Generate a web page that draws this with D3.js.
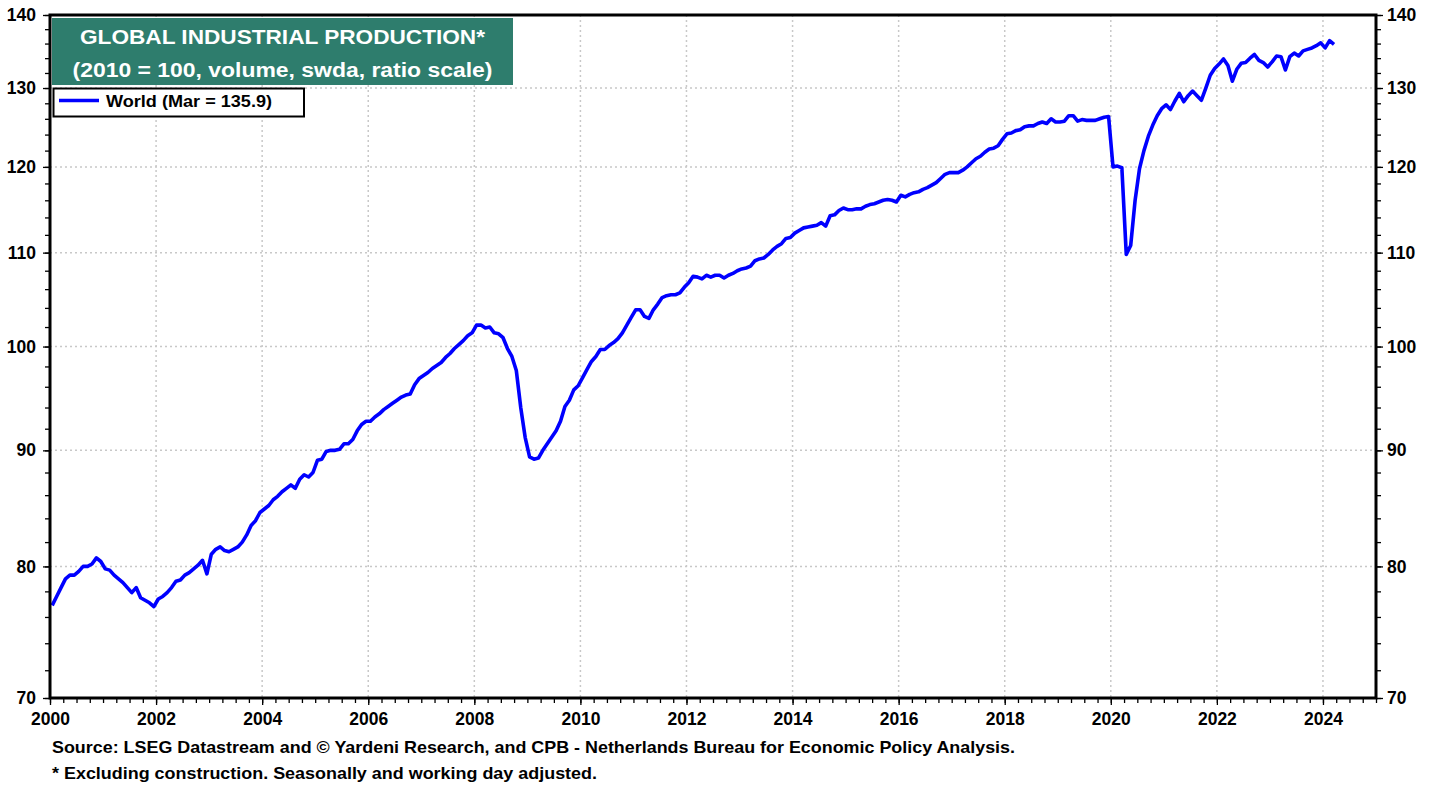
<!DOCTYPE html>
<html>
<head>
<meta charset="utf-8">
<script src="https://cdn.jsdelivr.net/npm/d3@7"></script>
<style>
  body { margin: 0; background: #fff; }
  svg { display: block; font-family: Arial, "Liberation Sans", sans-serif; font-weight: bold; }
</style>
</head>
<body>
<svg id="chart" width="1438" height="787"></svg>
<script>
// monthly index, 2010 = 100, Jan 2000 .. Mar 2024
const firstYear = 2000;
const worldIP = [
  76.9, 77.6, 78.3, 79.0, 79.3, 79.3, 79.6, 80.0, 80.0, 80.2, 80.7, 80.4, // 2000
  79.8, 79.7, 79.3, 79.0, 78.7, 78.3, 77.9, 78.3, 77.5, 77.3, 77.1, 76.8, // 2001
  77.4, 77.6, 77.9, 78.3, 78.8, 78.9, 79.3, 79.5, 79.8, 80.1, 80.5, 79.4, // 2002
  81.0, 81.4, 81.6, 81.3, 81.2, 81.4, 81.6, 82.0, 82.6, 83.4, 83.8, 84.5, // 2003
  84.8, 85.1, 85.6, 85.9, 86.3, 86.6, 86.9, 86.6, 87.4, 87.8, 87.6, 88.0, // 2004
  89.1, 89.2, 89.9, 90.0, 90.0, 90.1, 90.6, 90.6, 91.0, 91.8, 92.4, 92.7, // 2005
  92.7, 93.1, 93.4, 93.8, 94.1, 94.4, 94.7, 95.0, 95.2, 95.3, 96.2, 96.8, // 2006
  97.1, 97.4, 97.8, 98.1, 98.4, 98.9, 99.3, 99.8, 100.2, 100.6, 101.1, 101.4, // 2007
  102.2, 102.2, 101.9, 102.0, 101.4, 101.3, 100.9, 99.8, 99.0, 97.6, 94.0, 91.2, // 2008
  89.4, 89.2, 89.3, 90.0, 90.6, 91.2, 91.8, 92.7, 94.1, 94.7, 95.7, 96.1, // 2009
  96.9, 97.7, 98.5, 99.0, 99.7, 99.7, 100.1, 100.4, 100.8, 101.4, 102.2, 103.0, // 2010
  103.8, 103.8, 103.1, 102.9, 103.8, 104.4, 105.1, 105.3, 105.4, 105.4, 105.6, 106.2, // 2011
  106.7, 107.4, 107.3, 107.1, 107.5, 107.3, 107.5, 107.5, 107.2, 107.5, 107.7, 108.0, // 2012
  108.2, 108.3, 108.5, 109.1, 109.3, 109.4, 109.8, 110.3, 110.7, 111.0, 111.6, 111.7, // 2013
  112.2, 112.5, 112.8, 112.9, 113.0, 113.1, 113.4, 113.0, 114.2, 114.3, 114.8, 115.1, // 2014
  114.9, 114.9, 115.0, 115.0, 115.3, 115.5, 115.6, 115.8, 116.0, 116.1, 116.0, 115.8, // 2015
  116.6, 116.4, 116.7, 116.9, 117.0, 117.3, 117.5, 117.8, 118.1, 118.6, 119.1, 119.3, // 2016
  119.3, 119.3, 119.6, 120.0, 120.5, 121.0, 121.3, 121.8, 122.2, 122.3, 122.6, 123.4, // 2017
  124.1, 124.2, 124.5, 124.6, 125.0, 125.1, 125.1, 125.4, 125.6, 125.4, 126.0, 125.6, // 2018
  125.6, 125.7, 126.4, 126.4, 125.7, 125.9, 125.8, 125.8, 125.8, 126.0, 126.2, 126.3, // 2019
  120.0, 120.1, 119.9, 109.8, 110.8, 116.0, 119.8, 122.0, 123.8, 125.2, 126.4, 127.3, // 2020
  127.8, 127.2, 128.3, 129.3, 128.2, 129.0, 129.6, 129.0, 128.4, 130.0, 131.7, 132.6, // 2021
  133.2, 133.9, 133.0, 130.9, 132.5, 133.3, 133.4, 134.0, 134.5, 133.7, 133.4, 132.8, // 2022
  133.5, 134.3, 134.2, 132.4, 134.2, 134.7, 134.3, 135.0, 135.2, 135.4, 135.7, 136.1, // 2023
  135.4, 136.4, 135.9 // 2024
];

const yMajorTicks = [70, 80, 90, 100, 110, 120, 130, 140];
const yGridTicks = [80, 90, 100, 110, 120, 130];
const xLabelYears = d3.range(2000, 2025, 2);
const titleLines = ["GLOBAL INDUSTRIAL PRODUCTION*", "(2010 = 100, volume, swda, ratio scale)"];
const legendLabel = "World (Mar = 135.9)";
const footnotes = [
  "Source: LSEG Datastream and \u00A9 Yardeni Research, and CPB - Netherlands Bureau for Economic Policy Analysis.",
  "* Excluding construction. Seasonally and working day adjusted."
];

const svg = d3.select("#chart");
const plotLeft = 50, plotRight = 1376, plotTop = 15, plotBottom = 698;

const x = d3.scaleLinear().domain([2000, 2025]).range([plotLeft, plotRight]);
const y = d3.scaleLog().domain([70, 140]).range([plotBottom, plotTop]);

const points = worldIP.map((v, i) => ({ t: firstYear + (i + 0.5) / 12, v: v }));

// grid
const grid = svg.append("g")
  .attr("stroke", "#c8c8c8")
  .attr("stroke-width", 1.5)
  .attr("stroke-dasharray", "2,3");
grid.selectAll(".hg").data(yGridTicks).join("line")
  .attr("x1", plotLeft).attr("x2", plotRight)
  .attr("y1", d => y(d)).attr("y2", d => y(d));
grid.selectAll(".vg").data(xLabelYears.slice(1)).join("line")
  .attr("x1", d => x(d)).attr("x2", d => x(d))
  .attr("y1", plotTop).attr("y2", plotBottom);

// axes
function styleAxis(g) {
  g.select(".domain").remove();
  g.selectAll(".tick line").attr("stroke", "#000").attr("stroke-width", 1.3);
  g.selectAll(".tick text").attr("fill", "#000").attr("font-size", 17.5).attr("font-weight", "bold")
    .attr("font-family", "Arial, 'Liberation Sans', sans-serif");
}

const yMinor = d3.range(70, 141, 2);
svg.append("g").attr("transform", `translate(${plotLeft},0)`)
  .call(d3.axisLeft(y).tickValues(yMinor).tickSize(5).tickFormat(""))
  .call(styleAxis);
svg.append("g").attr("transform", `translate(${plotLeft},0)`)
  .call(d3.axisLeft(y).tickValues(yMajorTicks).tickSize(7).tickPadding(7).tickFormat(d3.format("d")))
  .call(styleAxis);
svg.append("g").attr("transform", `translate(${plotRight},0)`)
  .call(d3.axisRight(y).tickValues(yMinor).tickSize(5).tickFormat(""))
  .call(styleAxis);
svg.append("g").attr("transform", `translate(${plotRight},0)`)
  .call(d3.axisRight(y).tickValues(yMajorTicks).tickSize(7).tickPadding(4).tickFormat(d3.format("d")))
  .call(styleAxis);

const xMinor = d3.range(2000, 2025.01, 0.25);
svg.append("g").attr("transform", `translate(0,${plotBottom})`)
  .call(d3.axisBottom(x).tickValues(xMinor).tickSize(5).tickFormat(""))
  .call(styleAxis);
svg.append("g").attr("transform", `translate(0,${plotBottom})`)
  .call(d3.axisBottom(x).tickValues(xLabelYears).tickSize(7).tickPadding(8).tickFormat(d3.format("d")))
  .call(styleAxis);

// series
const line = d3.line().x(d => x(d.t)).y(d => y(d.v));
svg.append("path")
  .datum(points)
  .attr("fill", "none")
  .attr("stroke", "#0000ff")
  .attr("stroke-width", 3.6)
  .attr("stroke-linejoin", "round")
  .attr("d", line);

// frame
svg.append("rect")
  .attr("x", plotLeft).attr("y", plotTop)
  .attr("width", plotRight - plotLeft).attr("height", plotBottom - plotTop)
  .attr("fill", "none").attr("stroke", "#000").attr("stroke-width", 3);

// title box
svg.append("rect")
  .attr("x", 52).attr("y", 18).attr("width", 461).attr("height", 67)
  .attr("fill", "#2e7d6d");
svg.selectAll(".title").data(titleLines).join("text")
  .attr("x", 282.5)
  .attr("y", (d, i) => i === 0 ? 43.5 : 77)
  .attr("text-anchor", "middle")
  .attr("fill", "#fff")
  .attr("font-size", 20)
  .attr("textLength", (d, i) => i === 0 ? 405 : 420)
  .attr("lengthAdjust", "spacingAndGlyphs")
  .text(d => d);

// legend
svg.append("rect")
  .attr("x", 53.5).attr("y", 88.5).attr("width", 250.5).attr("height", 28)
  .attr("fill", "#fff").attr("stroke", "#000").attr("stroke-width", 2);
svg.append("line")
  .attr("x1", 59).attr("x2", 99).attr("y1", 100.5).attr("y2", 100.5)
  .attr("stroke", "#0000ff").attr("stroke-width", 3.6);
svg.append("text")
  .attr("x", 106).attr("y", 107)
  .attr("font-size", 16.5)
  .attr("textLength", 166)
  .attr("lengthAdjust", "spacingAndGlyphs")
  .text(legendLabel);

// footnotes
svg.selectAll(".foot").data(footnotes).join("text")
  .attr("x", 52)
  .attr("y", (d, i) => i === 0 ? 753 : 779)
  .attr("font-size", 16.5)
  .attr("textLength", (d, i) => i === 0 ? 963 : 545)
  .attr("lengthAdjust", "spacingAndGlyphs")
  .text(d => d);
</script>
</body>
</html>
